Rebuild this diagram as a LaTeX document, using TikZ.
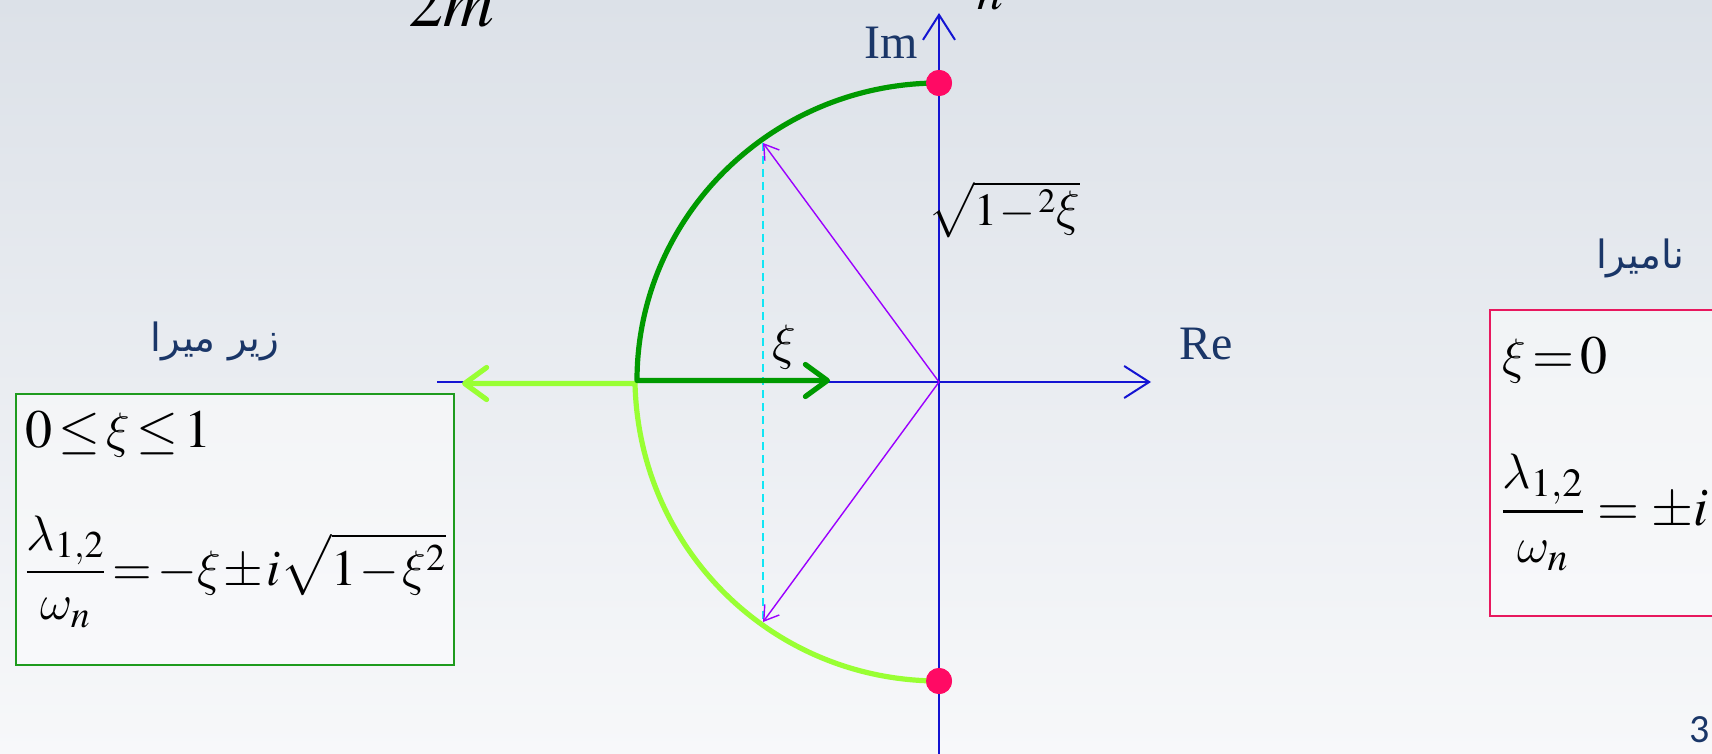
\documentclass[tikz,border=0pt]{standalone}
\usepackage{mathptmx}
\DeclareSymbolFont{cmletters}{OML}{cmm}{m}{it}
\DeclareMathSymbol{\xi}{\mathord}{cmletters}{"18}
\DeclareMathSymbol{\lambda}{\mathord}{cmletters}{"15}
\DeclareMathSymbol{\omega}{\mathord}{cmletters}{"21}
\usepackage[no-math]{fontspec}
\setmainfont{Liberation Serif}
\newfontfamily\arabicfont[Script=Arabic]{DejaVu Sans}
\newfontfamily\slidefont{Carlito}
\TeXXeTstate=1
\newcommand{\tightmath}{\medmuskip=1mu\relax\thickmuskip=2mu\relax}
\usepackage{tikz}
\usetikzlibrary{arrows.meta,positioning}
\definecolor{clAxis}{HTML}{1414D2}
\definecolor{clUpper}{HTML}{009A00}
\definecolor{clLower}{HTML}{99FF33}
\definecolor{clVec}{HTML}{9B00FF}
\definecolor{clProj}{HTML}{11E6F5}
\definecolor{clPole}{HTML}{FF0A64}
\definecolor{clText}{HTML}{1A3668}
\definecolor{clSub}{HTML}{1E9B1E}
\definecolor{clUndamp}{HTML}{E8185E}
\definecolor{clBgTop}{HTML}{DCE1E8}
\definecolor{clBgBot}{HTML}{F7F8FA}
\tikzset{
  axis/.style={draw=clAxis, line width=1pt, -{Straight Barb[length=12.5pt,width=16pt]}},
  upper/.style={draw=clUpper, line width=2.6pt, line join=round,
                -{Straight Barb[length=11pt,width=16pt,round]}},
  lower/.style={draw=clLower, line width=2.6pt, line join=round,
                {Straight Barb[length=11pt,width=16pt,round]}-},
  vec/.style={draw=clVec, line width=0.7pt, -{Straight Barb[length=7pt,width=9pt]}},
  proj/.style={draw=clProj, line width=1pt, dash pattern=on 4pt off 2.5pt},
  pole/.style={circle, fill=clPole, inner sep=0pt, minimum size=13pt},
  axlabel/.style={text=clText, inner sep=0pt, font=\fontsize{24}{28}\selectfont},
  falabel/.style={text=clText, inner sep=0pt, font=\arabicfont\fontsize{19.5}{24}\selectfont},
  eq/.style={inner sep=0pt, anchor=base west, font=\fontsize{27}{32}\selectfont},
  casebox/.style={line width=0.8pt, fill=white, fill opacity=0.45, inner sep=0pt,
                  anchor=north west},
}

\begin{document}
\begin{tikzpicture}[x=0.5pt, y=-0.5pt]
  \useasboundingbox (0,0) rectangle (1712,754);
  \shade[top color=clBgTop, bottom color=clBgBot] (0,0) rectangle (1712,754);

  \coordinate (o) at (939,382);
  \coordinate (xl) at (437,382);
  \coordinate (xr) at (1151,382);
  \coordinate (yb) at (939,760);
  \coordinate (yt) at (939,13);
  \coordinate (pa) at (763,143);
  \coordinate (pb) at (763,622);
  \coordinate (xiend) at (830,380.5);
  \coordinate (leftend) at (462,383.5);

  \draw[axis] (xl) -- (xr);
  \draw[axis] (yb) -- (yt);
  \draw[proj] (pa) -- (pb);
  \draw[vec] (o) -- (pa);
  \draw[vec] (o) -- (pb);

  \node[pole] (p1) at (939,83) {};
  \node[pole] (p2) at (939,681) {};
  \draw[lower] (leftend) -- (635,383.5) .. controls (639,550) and (773,681) .. (p2.center);
  \draw[upper] (p1.center) .. controls (773,83) and (637,216) .. (637,380.5) -- (xiend);
  \node[pole] at (p1) {};
  \node[pole] at (p2) {};

  \node[axlabel] (re) at (1206,344) {Re};
  \node[axlabel] (im) at (891,43) {Im};
  \node[eq, anchor=center, font=\fontsize{32}{36}\selectfont] (xi) at (784,347) {$\xi$};
  \node[eq, font=\fontsize{23}{28}\selectfont] (root) at (928,226) {$\tightmath\sqrt{1-{}^2\xi}$};
  \node[eq, font=\fontsize{35}{40}\selectfont] (mass) at (408,27) {$2m$};
  \node[eq, font=\fontsize{35}{40}\selectfont] (wn) at (947,-1) {$\omega_n$};

  \node[casebox, draw=clSub, minimum width=219pt, minimum height=135.5pt] (sub) at (15,393) {};
  \node[eq] (subrange) at (25,447) {$\tightmath 0\le\xi\le1$};
  \node[eq, font=\fontsize{25.5}{30}\selectfont] (subroot) at (24,585) {$\tightmath\displaystyle\frac{\lambda_{1,2}}{\omega_n}=-\xi\pm i\sqrt{1-\xi^2}$};
  \node[falabel] (subname) at (215,341) {\beginR زیر میرا\endR};

  \node[casebox, draw=clUndamp, minimum width=125pt, minimum height=153pt] (und) at (1489,309) {};
  \node[eq] (undrange) at (1502,373) {$\tightmath\xi=0$};
  \node[eq] (undroot) at (1500,525) {$\displaystyle\frac{\lambda_{1,2}}{\omega_n}=\pm i$};
  \node[falabel] (undname) at (1640,258) {\beginR نامیرا\endR};

  \node[text=clText, font=\slidefont\fontsize{20}{24}\selectfont] (page) at (1700,730) {3};
\end{tikzpicture}
\end{document}
